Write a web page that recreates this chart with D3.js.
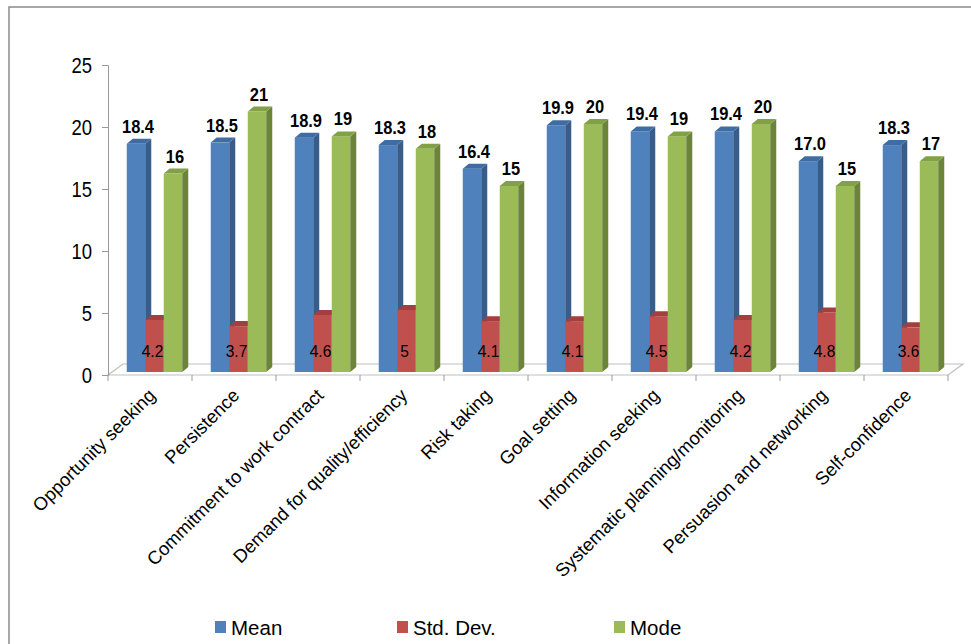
<!DOCTYPE html>
<html>
<head>
<meta charset="utf-8">
<script src="https://cdn.jsdelivr.net/npm/d3@7"></script>
<style>
  body { margin: 0; background: #fff; }
  text { font-family: Arial, "Liberation Sans", sans-serif; }
</style>
</head>
<body>
<svg id="chart" width="971" height="644"></svg>
<script>
// chart data
var categories = ["Opportunity seeking", "Persistence", "Commitment to work contract",
    "Demand for quality/efficiency", "Risk taking", "Goal setting", "Information seeking",
    "Systematic planning/monitoring", "Persuasion and networking", "Self-confidence"];
var seriesNames = ["Mean", "Std. Dev.", "Mode"];
var meanValues = [18.4, 18.5, 18.9, 18.3, 16.4, 19.9, 19.4, 19.4, 17.0, 18.3];
var sdValues = [4.2, 3.7, 4.6, 5, 4.1, 4.1, 4.5, 4.2, 4.8, 3.6];
var modeValues = [16, 21, 19, 18, 15, 20, 19, 20, 15, 17];
var yTicks = [0, 5, 10, 15, 20, 25];

var colors = {
    "Mean": {front: "#4F81BD", side: "#385D8A", top: "#3F6CA3"},
    "Std. Dev.": {front: "#C0504D", side: "#8C3836", top: "#A33F3C"},
    "Mode": {front: "#9BBB59", side: "#6B833C", top: "#82A046"}
};

var svg = d3.select('#chart');

// outer frame
svg.append('rect')
    .attr('x', 9).attr('y', 7)
    .attr('width', 1000).attr('height', 700)
    .attr('fill', 'none')
    .attr('stroke', '#8a8a8a')
    .attr('stroke-width', 1.5);

var left = 108, right = 948, floorDepth = {dx: 15, dy: -11};
var barDepth = {dx: 6, dy: -5};

var x = d3.scaleBand().domain(categories).range([left, right]);
var xs = d3.scaleBand().domain(seriesNames).range([0, 55.5]);
var y = d3.scaleLinear().domain([0, 25]).range([375, 65]);
var boundary = d3.scaleLinear().domain([0, categories.length]).range([left, right]);

// floor
var y0 = y(0);
svg.append('polygon')
    .attr('points', [[left, y0], [right, y0], [right + floorDepth.dx, y0 + floorDepth.dy],
        [left + floorDepth.dx, y0 + floorDepth.dy]].join(' '))
    .attr('fill', '#fff')
    .attr('stroke', '#bfbfbf')
    .attr('stroke-width', 1.2);

// category ticks along front edge
svg.append('g').selectAll('line')
    .data(d3.range(categories.length + 1))
    .enter().append('line')
    .attr('x1', d => boundary(d)).attr('x2', d => boundary(d))
    .attr('y1', y0).attr('y2', y0 + 6)
    .attr('stroke', '#9a9a9a');

// y axis
var yAxis = d3.axisLeft(y).tickValues(yTicks).tickSize(6).tickPadding(10);
var ga = svg.append('g')
    .attr('transform', 'translate(' + left + ',0)')
    .call(yAxis);
ga.select('.domain').attr('stroke', '#9a9a9a');
ga.selectAll('.tick line').attr('stroke', '#9a9a9a');
ga.selectAll('.tick text')
    .attr('font-size', 18.5)
    .attr('fill', '#000')
    .attr('dy', '0.36em')
    .attr('transform', 'scale(1,1.15)')
    .attr('y', 0);
// keep scaled labels centred on their ticks
ga.selectAll('.tick text').attr('transform', 'translate(0,0) scale(1,1.15)');

// bars
var seriesData = [meanValues, sdValues, modeValues];
var barOffset = (x.bandwidth() - xs.range()[1]) / 2 + 4.5;
var bw = xs.bandwidth();

function barY(v) { return y(v) - 3; }

var groups = svg.append('g').selectAll('g')
    .data(categories)
    .enter().append('g');

groups.each(function (cat, i) {
    var g = d3.select(this);
    seriesNames.forEach(function (s, k) {
        var v = seriesData[k][i];
        var x0 = x(cat) + barOffset + xs(s);
        var x1 = x0 + bw;
        var yb = barY(0), yt = barY(v);
        var c = colors[s];
        g.append('rect')
            .attr('x', x0).attr('y', yt)
            .attr('width', bw).attr('height', yb - yt)
            .attr('fill', c.front);
        g.append('polygon')
            .attr('points', [[x1, yt], [x1 + barDepth.dx, yt + barDepth.dy],
                [x1 + barDepth.dx, yb + barDepth.dy], [x1, yb]].join(' '))
            .attr('fill', c.side);
        g.append('polygon')
            .attr('points', [[x0, yt], [x1, yt], [x1 + barDepth.dx, yt + barDepth.dy],
                [x0 + barDepth.dx, yt + barDepth.dy]].join(' '))
            .attr('fill', c.top);
    });
});

// value labels
function addLabel(cx, cy, txt, weight, size) {
    svg.append('text')
        .attr('transform', 'translate(' + cx + ',' + cy + ') scale(1,1.12)')
        .attr('text-anchor', 'middle')
        .attr('font-size', size)
        .attr('font-weight', weight)
        .attr('fill', '#000')
        .text(txt);
}

categories.forEach(function (cat, i) {
    var xm = x(cat) + barOffset + xs("Mean") + bw / 2 + 2;
    var xd = x(cat) + barOffset + xs("Std. Dev.") + bw / 2 - 2;
    var xo = x(cat) + barOffset + xs("Mode") + bw / 2 + 2;
    addLabel(xm, barY(meanValues[i]) - 11, meanValues[i].toFixed(1), 'bold', 16.5);
    addLabel(xo, barY(modeValues[i]) - 11, String(modeValues[i]), 'bold', 16.5);
    addLabel(xd, 357, String(sdValues[i]), 'normal', 15.5);
});

// category labels
svg.append('g').selectAll('text')
    .data(categories)
    .enter().append('text')
    .attr('transform', d => 'translate(' + (x(d) + x.bandwidth() / 2 + 2) + ',' + 392 + ') rotate(-45)')
    .attr('text-anchor', 'end')
    .attr('dy', '0.35em')
    .attr('font-size', 18.5)
    .attr('fill', '#000')
    .text(d => d);

// legend
var legendX = [215, 397, 614];
var legend = svg.append('g').selectAll('g')
    .data(seriesNames)
    .enter().append('g')
    .attr('transform', (d, i) => 'translate(' + legendX[i] + ',621)');
legend.append('rect')
    .attr('width', 11).attr('height', 12)
    .attr('fill', d => colors[d].front);
legend.append('text')
    .attr('x', 16).attr('y', 14)
    .attr('font-size', 20.5)
    .attr('fill', '#000')
    .text(d => d);
</script>
</body>
</html>
